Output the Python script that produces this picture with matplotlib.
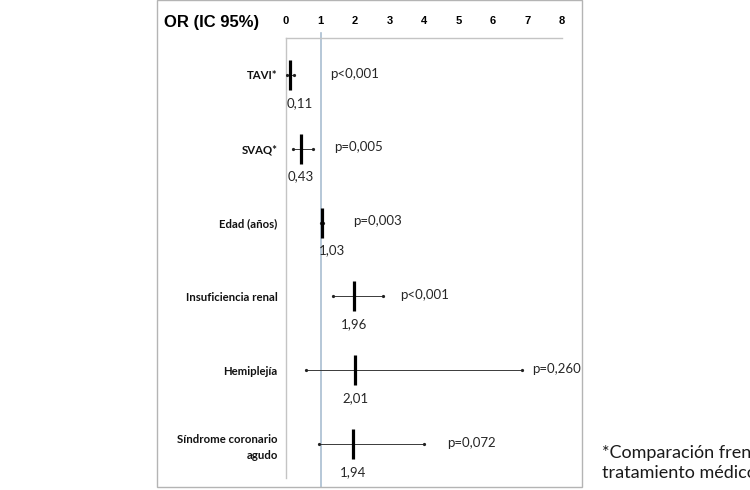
import matplotlib
matplotlib.use("Agg")
import matplotlib.pyplot as plt
from matplotlib.patches import Rectangle

# data
categories = ["TAVI*", "SVAQ*", "Edad (años)", "Insuficiencia renal",
              "Hemiplejía", "Síndrome coronario\nagudo"]
odds_ratio = [0.11, 0.43, 1.03, 1.96, 2.01, 1.94]
ci_low = [0.03, 0.20, 1.01, 1.37, 0.58, 0.96]
ci_high = [0.23, 0.78, 1.06, 2.82, 6.84, 4.00]
or_labels = ["0,11", "0,43", "1,03", "1,96", "2,01", "1,94"]
p_labels = ["p<0,001", "p=0,005", "p=0,003", "p<0,001", "p=0,260", "p=0,072"]
x_ticks = [0, 1, 2, 3, 4, 5, 6, 7, 8]

W, H = 750, 490
fig = plt.figure(figsize=(W / 100, H / 100), dpi=100)
ax = fig.add_axes([286 / W, 1 - 478 / H, (562 - 286) / W, (478 - 38) / H])

rows = list(range(len(categories)))
ax.set_xlim(0, 8)
ax.set_ylim(5.46, -0.5)

# outer frame of the pasted slide graphic
fig.patches.append(Rectangle((157 / W, 1 - 487 / H), (582 - 157) / W, 487 / H,
                             transform=fig.transFigure, fill=False,
                             edgecolor="#b4b4b4", lw=1.0))

# reference line at OR = 1
ax.axvline(1, ymin=-0.02, ymax=1.012, color="#a9bed1", lw=1.2, clip_on=False, zorder=1)

# confidence intervals
ax.hlines(rows, ci_low, ci_high, color="#3a3a3a", lw=0.7, zorder=2)
ax.plot(ci_low, rows, ls="none", marker="o", ms=1.3, color="#222222", zorder=3)
ax.plot(ci_high, rows, ls="none", marker="o", ms=1.3, color="#222222", zorder=3)

# point estimates as thick vertical bars
ax.plot(odds_ratio, rows, ls="none", marker="|", ms=22, mew=2.3, color="black", zorder=4)

num_font = ["Lato", "DejaVu Sans"]
label_ha = ["left", "center", "left", "center", "center", "center"]
p_pad = [36, 21, 31, 17, 10, 23]  # px gap after the CI end
for i in rows:
    dx = -3 if label_ha[i] == "left" else 0
    ax.annotate(or_labels[i], (odds_ratio[i], i), xytext=(dx * 0.72, -20),
                textcoords="offset points", ha=label_ha[i], va="center",
                fontsize=9.5, color="#262626", family=num_font)
    ax.annotate(p_labels[i], (ci_high[i], i), xytext=(p_pad[i] * 0.72, 1),
                textcoords="offset points", ha="left", va="center",
                fontsize=9.5, color="#262626", family=num_font)

ax.set_yticks(rows)
ax.set_yticklabels(categories, fontsize=8.2, fontweight="bold", family=num_font,
                   color="#111111", linespacing=1.5)
ax.tick_params(axis="y", length=0, pad=6)

ax.xaxis.tick_top()
ax.set_xticks(x_ticks)
ax.set_xticklabels([str(t) for t in x_ticks], fontsize=8, fontweight="bold",
                   family=["Liberation Sans", "DejaVu Sans"])
ax.tick_params(axis="x", length=0, pad=9)

for side in ["right", "bottom"]:
    ax.spines[side].set_visible(False)
ax.spines["top"].set_color("#c4c4c4")
ax.spines["left"].set_color("#c4c4c4")
ax.spines["top"].set_linewidth(1.0)
ax.spines["left"].set_linewidth(1.0)

fig.text(164 / W, 1 - 22 / H, "OR (IC 95%)", fontsize=12, fontweight="bold",
         family=["Liberation Sans", "DejaVu Sans"], ha="left", va="center")

# footnote, cut by the right edge as in the source image
fig.text(602 / W, 1 - 463 / H, "*Comparación frente al\ntratamiento médico",
         fontsize=13, family=["Lato", "DejaVu Sans"], color="#1a1a1a",
         ha="left", va="center", linespacing=1.3)

fig.savefig("out.png", dpi=100)
